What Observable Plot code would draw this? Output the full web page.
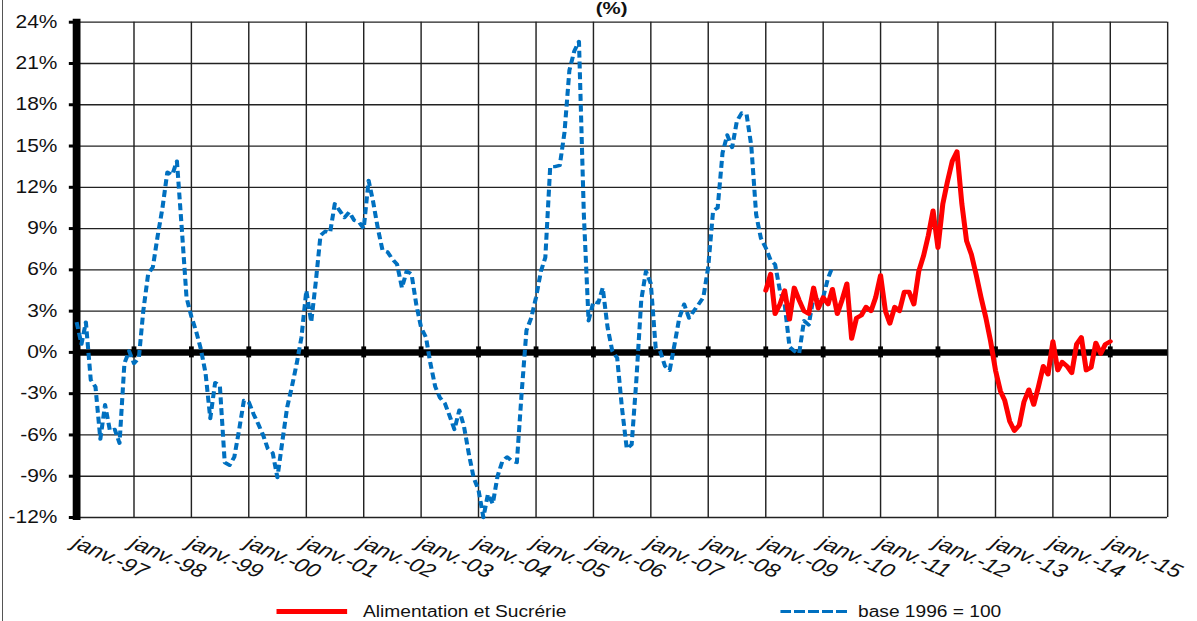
<!DOCTYPE html>
<html><head><meta charset="utf-8">
<script src="https://cdn.jsdelivr.net/npm/d3@7"></script>
<script src="https://cdn.jsdelivr.net/npm/@observablehq/plot@0.6"></script>
<style>
html,body{margin:0;padding:0;background:#fff;overflow:hidden;width:1197px;height:621px}
#frame{position:absolute;left:2px;top:0;width:1px;height:621px;background:#555}
#wrap{position:absolute;left:0;top:0;width:1000px;height:621px;transform:scaleX(1.197);transform-origin:0 0;font-family:"Liberation Sans",Arial,sans-serif;color:#111}
#title{position:absolute;left:11px;top:0;width:1000px;text-align:center;font-weight:bold;font-size:17px;line-height:17px}
#chart{position:absolute;left:0;top:12px}
#legend{position:absolute;left:0;top:602px;width:1000px;height:19px;font-size:16px;line-height:19px}
#legend .sw{position:absolute}
#legend .tx{position:absolute;top:0;white-space:nowrap}
</style></head>
<body>
<div id="frame"></div>
<div id="wrap">
  <div id="chart"></div>
  <div id="title">(%)</div>
  <div id="legend">
    <div class="sw" style="left:231.4px;top:7px;width:58.5px;height:4.5px;background:#ff0000"></div>
    <div class="tx" style="left:303.3px">Alimentation et Sucrérie</div>
    <div class="sw" style="left:651.6px;top:7.5px;width:58.4px;height:3.6px;background:repeating-linear-gradient(to right,#0070c0 0 8.6px,transparent 8.6px 11.7px)"></div>
    <div class="tx" style="left:716.8px">base 1996 = 100</div>
  </div>
</div>
<script>
// ---- data (monthly year-on-year change, %) ----
const seriesNames = ["Alimentation et Sucrérie", "base 1996 = 100"];
const blueStart = [1997, 0]; // Jan 1997
const blueValues = [
  2.2, 0.6, 2.2, -2.0, -2.5, -6.3, -3.8, -5.7, -5.6, -6.6, -0.8, 0.1,
  -0.8, -0.4, 3.0, 5.7, 6.2, 8.5, 10.5, 13.1, 12.9, 13.9, 9.0, 4.0,
  2.6, 1.5, 0.3, -1.5, -4.8, -2.2, -2.4, -8.0, -8.2, -7.6, -5.6, -3.5,
  -3.6, -4.5, -5.2, -6.0, -7.0, -7.3, -9.1, -6.5, -4.0, -2.5, -0.8, 1.1,
  4.5, 2.2, 5.0, 8.5, 8.8, 8.7, 10.8, 10.3, 9.8, 10.2, 9.6, 9.5,
  9.0, 12.5, 11.0, 9.0, 7.4, 7.3, 6.8, 6.4, 4.7, 5.9, 5.7, 3.5,
  1.8, 1.1, -0.8, -2.5, -3.3, -3.7, -4.6, -5.6, -4.2, -5.4, -7.4, -9.1,
  -10.0, -12.0, -10.3, -11.0, -9.0, -7.9, -7.6, -7.9, -8.0, -3.0, 1.6, 2.5,
  4.0, 5.9, 6.9, 13.5, 13.5, 13.6, 16.0, 20.5, 21.9, 22.6, 10.0, 2.3,
  3.7, 3.6, 4.7, 1.8, 0.1, -0.4, -4.0, -7.0, -6.7, -2.0, 3.8, 5.9,
  5.0, 0.3, 0.1, -1.0, -1.3, 0.6, 2.5, 3.5, 2.5, 3.0, 3.5, 4.0,
  6.2, 10.3, 10.5, 14.5, 15.8, 14.9, 16.8, 17.4, 17.3, 15.0, 10.0, 8.3,
  7.6, 6.7, 6.4, 4.5, 3.5, 0.4, 0.1, -0.1, 2.3, 2.0, 4.0, 3.8,
  4.0, 5.4, 6.2
];
const redStart = [2009, 0]; // Jan 2009
const redValues = [
  4.5, 5.7, 2.8, 3.5, 4.5, 2.4, 4.7, 3.8, 3.0, 2.8, 4.7, 3.2,
  4.0, 3.5, 4.6, 2.8, 3.8, 5.0, 1.0, 2.5, 2.7, 3.3, 3.0, 4.0,
  5.6, 3.0, 2.1, 3.3, 3.0, 4.4, 4.4, 3.5, 5.9, 7.0, 8.5, 10.3,
  7.6, 10.8, 12.4, 13.9, 14.6, 10.8, 8.1, 7.1, 5.6, 4.0, 2.5, 0.8,
  -1.3, -2.8, -3.5, -5.0, -5.7, -5.3, -3.6, -2.7, -3.8, -2.5, -1.0, -1.6,
  0.8, -1.3, -0.7, -1.0, -1.5, 0.6, 1.1, -1.3, -1.1, 0.7, -0.1, 0.6,
  0.8
];
const yTicks = [-12, -9, -6, -3, 0, 3, 6, 9, 12, 15, 18, 21, 24];
const xTickYears = [1997,1998,1999,2000,2001,2002,2003,2004,2005,2006,2007,2008,2009,2010,2011,2012,2013,2014,2015];
const xTickLabels = ["janv.-97","janv.-98","janv.-99","janv.-00","janv.-01","janv.-02","janv.-03","janv.-04","janv.-05","janv.-06","janv.-07","janv.-08","janv.-09","janv.-10","janv.-11","janv.-12","janv.-13","janv.-14","janv.-15"];
const gridYears = [1997,1998,1999,2000,2001,2002,2003,2004,2005,2006,2007,2008,2009,2010,2011,2012,2013,2014,2015,2016];

// ---- build tables ----
const month = (y, m) => new Date(Date.UTC(y, m, 1));
const blue = blueValues.map((v, i) => ({date: month(blueStart[0], blueStart[1] + i), value: v}));
const red = redValues.map((v, i) => ({date: month(redStart[0], redStart[1] + i), value: v}));
const x0 = month(1997, 0), x1 = month(2016, 0);
const gridDates = gridYears.map(y => month(y, 0));
const labelData = xTickLabels.map((t, i) => ({date: month(xTickYears[i], 0), text: t}));

const chart = Plot.plot({
  width: 1000,
  height: 590,
  marginTop: 9.7,
  marginBottom: 85,
  marginLeft: 63.5,
  marginRight: 25,
  style: {fontFamily: '"Liberation Sans", Arial, sans-serif', color: "#111", background: "transparent", overflow: "visible"},
  x: {type: "utc", domain: [x0, x1], axis: null},
  y: {domain: [-12, 24], axis: null},
  marks: [
    Plot.ruleY(yTicks, {y: d => d, stroke: "#222", strokeWidth: 1.3}),
    Plot.ruleX(gridDates, {x: d => d, stroke: "#222", strokeWidth: 1.2}),
    Plot.ruleY([0], {y: d => d, stroke: "#000", strokeWidth: 6.5}),
    Plot.ruleX(gridDates.slice(0, 19), {x: d => d, y1: () => 0, y2: () => 0, insetTop: -5.5, insetBottom: -5.5, stroke: "#000", strokeWidth: 4, strokeLinecap: "butt"}),
    Plot.ruleX([x0], {x: d => d, stroke: "#000", strokeWidth: 6.5, insetTop: -3, insetBottom: -3, strokeLinecap: "butt"}),
    Plot.ruleY(yTicks, {y: d => d, x1: () => x0, x2: () => x0, insetLeft: -6, insetRight: 0, stroke: "#000", strokeWidth: 3, strokeLinecap: "butt"}),
    Plot.line(blue, {x: "date", y: "value", stroke: "#0070c0", strokeWidth: 3.4, strokeDasharray: "7,3.8", strokeLinecap: "butt", strokeLinejoin: "round"}),
    Plot.line(red, {x: "date", y: "value", stroke: "#ff0000", strokeWidth: 4.2, strokeLinejoin: "round", strokeLinecap: "round"}),
    Plot.text(yTicks, {x: () => x0, y: d => d, text: d => d + "%", textAnchor: "end", dx: -16, fontSize: 17.5, fill: "#111"}),
    Plot.text(labelData, {x: "date", y: () => -12, text: "text", rotate: 28, textAnchor: "start", lineAnchor: "top", dx: 2, dy: 17, fontSize: 19.5, fontStyle: "italic", fill: "#111"})
  ]
});
document.getElementById("chart").appendChild(chart);
</script>
</body></html>
